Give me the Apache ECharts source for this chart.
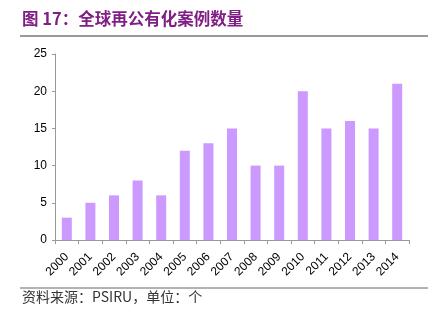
<!DOCTYPE html>
<html>
<head>
<meta charset="utf-8">
<script src="https://cdn.jsdelivr.net/npm/echarts@6/dist/echarts.min.js"></script>
<style>html,body{margin:0;padding:0;background:#fff;}#c{width:440px;height:322px;}</style>
</head>
<body>
<div id="c"></div>
<script>
const categories = ['2000','2001','2002','2003','2004','2005','2006','2007','2008','2009','2010','2011','2012','2013','2014'];
const values = [3,5,6,8,6,12,13,15,10,10,20,15,16,15,21];
const yTicks = [0,5,10,15,20,25];
const titleText = '图 17：全球再公有化案例数量';
const sourceText = '资料来源：PSIRU，单位：个';

const chart = echarts.init(document.getElementById('c'), null, {renderer:'canvas'});
chart.setOption({
  animation:false,
  backgroundColor:'#fff',
  grid:{left:55,right:31,top:54,bottom:82,containLabel:false},
  xAxis:{
    type:'category',
    data:categories,
    axisLine:{lineStyle:{color:'#999',width:1}},
    axisTick:{show:true,alignWithLabel:false,length:4,lineStyle:{color:'#999'}},
    axisLabel:{rotate:45,fontSize:12,color:'#000',fontFamily:'Liberation Sans, Arial, sans-serif',margin:15,interval:0}
  },
  yAxis:{
    type:'value',
    min:yTicks[0],max:yTicks[yTicks.length-1],interval:5,
    axisLine:{show:true,lineStyle:{color:'#999',width:1}},
    axisTick:{show:true,length:3,lineStyle:{color:'#999'}},
    splitLine:{show:false},
    axisLabel:{fontSize:12,color:'#000',fontFamily:'Liberation Sans, Arial, sans-serif',margin:8}
  },
  series:[{
    type:'bar',
    data:values,
    barWidth:10,
    itemStyle:{color:'#CC99FF'}
  }],
  graphic:[
    {type:'text',left:22,top:10,style:{text:titleText,fill:'#7F1F86',font:'bold 16.5px "Noto Sans CJK SC", sans-serif'}},
    {type:'line',shape:{x1:20,y1:36,x2:428,y2:36},style:{stroke:'#333',lineWidth:1}},
    {type:'line',shape:{x1:20,y1:288,x2:428,y2:288},style:{stroke:'#666',lineWidth:1}},
    {type:'text',left:22,top:290,style:{text:sourceText,fill:'#333',font:'14px "Noto Sans CJK SC", sans-serif'}}
  ]
});
</script>
</body>
</html>
